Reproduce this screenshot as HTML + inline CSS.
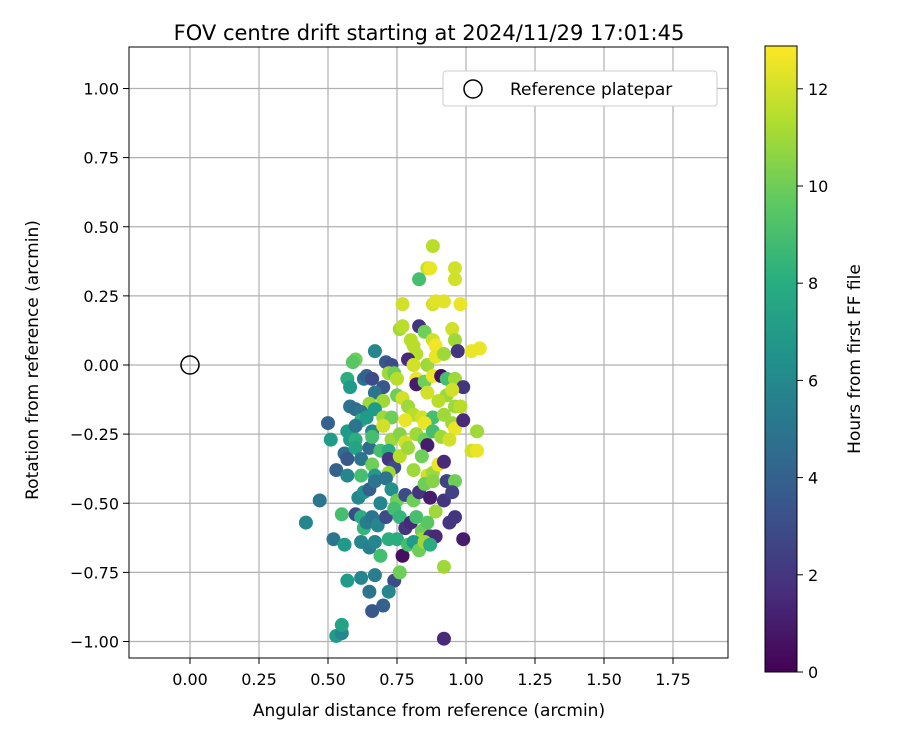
<!DOCTYPE html>
<html><head><meta charset="utf-8"><style>
body{margin:0;background:#fff;}
svg text{font-family:"DejaVu Sans","Liberation Sans",sans-serif;fill:#000;}
</style></head><body>
<svg id="chart" width="900" height="750" xmlns="http://www.w3.org/2000/svg">
<defs><linearGradient id="vir" x1="0" y1="1" x2="0" y2="0">
<stop offset="0" stop-color="#440154"/><stop offset="0.125" stop-color="#472d7b"/><stop offset="0.25" stop-color="#3b528b"/><stop offset="0.375" stop-color="#2c728e"/><stop offset="0.5" stop-color="#21918c"/><stop offset="0.625" stop-color="#28ae80"/><stop offset="0.75" stop-color="#5ec962"/><stop offset="0.875" stop-color="#addc30"/><stop offset="1" stop-color="#fde725"/></linearGradient></defs>
<g id="grid"></g>
<g id="pts"></g>
<rect x="129" y="47" width="599" height="611" fill="none" stroke="#000" stroke-width="1"/>
<g id="axes"></g>
<text x="429" y="47" dy="-7" font-size="21" text-anchor="middle">FOV centre drift starting at 2024/11/29 17:01:45</text>
<text x="429" y="716" font-size="17" text-anchor="middle">Angular distance from reference (arcmin)</text>
<text transform="translate(38,360) rotate(-90)" font-size="17" text-anchor="middle">Rotation from reference (arcmin)</text>
<g>
<rect x="443" y="71" width="274" height="35" rx="3" fill="#fff" stroke="#ccc"/>
<circle cx="473" cy="89" r="9" fill="none" stroke="#000" stroke-width="1.5"/>
<text x="510" y="95" font-size="17">Reference platepar</text>
</g>
<circle cx="190" cy="365" r="9" fill="none" stroke="#000" stroke-width="1.5"/>
<rect x="765" y="46" width="32" height="626" fill="url(#vir)" stroke="#000" stroke-width="1"/>
<g id="cbar"></g>
<text transform="translate(860,359) rotate(-90)" font-size="17" text-anchor="middle">Hours from first FF file</text>
</svg>
<script>
const xTicks=[0,0.25,0.5,0.75,1.0,1.25,1.5,1.75];
const yTicks=[1.0,0.75,0.5,0.25,0,-0.25,-0.5,-0.75,-1.0];
const cTicks=[0,2,4,6,8,10,12];
const xs=[0.88,0.86,0.87,0.96,0.96,0.83,0.77,0.88,0.89,0.92,0.98,0.83,0.76,0.77,0.85,0.95,0.80,0.88,0.89,0.96,0.97,1.02,1.05,0.81,0.82,0.79,0.81,0.86,0.89,0.92,0.60,0.59,0.67,0.71,0.73,0.72,0.74,0.75,0.57,0.58,0.63,0.64,0.66,0.70,0.67,0.82,0.82,0.85,0.88,0.91,0.93,0.96,0.99,0.86,0.93,0.95,0.90,0.96,0.98,0.70,0.75,0.77,0.65,0.58,0.60,0.62,0.67,0.70,0.73,0.79,0.81,0.84,0.88,0.92,0.95,0.96,0.85,0.78,0.62,0.64,0.59,0.57,0.60,0.66,0.70,0.73,0.76,0.78,0.82,0.85,0.88,0.91,0.94,0.86,0.99,1.04,1.02,1.04,0.50,0.51,0.53,0.56,0.57,0.58,0.60,0.60,0.62,0.65,0.66,0.66,0.69,0.72,0.72,0.74,0.76,0.79,0.81,0.84,0.86,0.88,0.90,0.92,0.93,0.96,0.72,0.67,0.62,0.57,0.55,0.61,0.63,0.65,0.67,0.71,0.73,0.75,0.78,0.81,0.83,0.85,0.88,0.87,0.89,0.92,0.95,0.47,0.42,0.52,0.60,0.62,0.63,0.64,0.66,0.68,0.69,0.71,0.74,0.76,0.78,0.80,0.82,0.84,0.86,0.84,0.87,0.89,0.94,0.96,0.99,0.56,0.62,0.65,0.67,0.69,0.72,0.75,0.77,0.79,0.81,0.83,0.85,0.87,0.92,0.57,0.62,0.67,0.74,0.76,0.65,0.72,0.70,0.66,0.53,0.55,0.55,0.92];
const ys=[0.43,0.35,0.35,0.35,0.31,0.31,0.22,0.22,0.23,0.23,0.22,0.14,0.13,0.14,0.12,0.13,0.09,0.09,0.07,0.09,0.05,0.05,0.06,0.07,0.04,0.02,0.0,0.0,0.03,0.04,0.02,0.01,0.05,0.01,0.0,-0.03,-0.03,-0.05,-0.05,-0.08,-0.05,-0.04,-0.05,-0.08,-0.10,-0.05,-0.07,-0.06,-0.04,-0.04,-0.05,-0.05,-0.08,-0.10,-0.11,-0.09,-0.13,-0.15,-0.15,-0.13,-0.11,-0.12,-0.14,-0.15,-0.16,-0.17,-0.16,-0.19,-0.19,-0.15,-0.18,-0.19,-0.19,-0.18,-0.21,-0.23,-0.21,-0.2,-0.2,-0.19,-0.26,-0.24,-0.22,-0.24,-0.22,-0.27,-0.25,-0.28,-0.25,-0.27,-0.24,-0.26,-0.27,-0.29,-0.2,-0.24,-0.31,-0.31,-0.21,-0.27,-0.38,-0.32,-0.34,-0.27,-0.27,-0.30,-0.34,-0.30,-0.36,-0.26,-0.31,-0.31,-0.34,-0.37,-0.33,-0.30,-0.38,-0.33,-0.40,-0.39,-0.36,-0.35,-0.42,-0.42,-0.39,-0.40,-0.40,-0.40,-0.54,-0.48,-0.46,-0.45,-0.42,-0.41,-0.45,-0.49,-0.47,-0.49,-0.46,-0.43,-0.42,-0.48,-0.53,-0.49,-0.46,-0.49,-0.57,-0.63,-0.54,-0.55,-0.59,-0.57,-0.55,-0.58,-0.50,-0.55,-0.52,-0.55,-0.59,-0.57,-0.55,-0.60,-0.57,-0.63,-0.62,-0.62,-0.57,-0.55,-0.63,-0.65,-0.64,-0.66,-0.64,-0.69,-0.63,-0.63,-0.69,-0.65,-0.64,-0.67,-0.64,-0.65,-0.73,-0.78,-0.77,-0.76,-0.78,-0.75,-0.82,-0.82,-0.87,-0.89,-0.98,-0.97,-0.94,-0.99];
const hrs=[11.5,11.8,12.5,12,12,9,12,12,12.3,12.3,12.5,2,11,11.5,10,12,11.5,12,12.7,11,2,12.5,12.5,11.5,11.5,1.5,12,11,12.5,11,10,9.5,6,3.5,3,11,10,11.5,8,7,5,4,3,3.5,5,12.5,1,10,12.5,0.5,9,11,2,12,11,12,11.5,11,11.5,11,10,12,11,5,4.5,5,7,11,10,11,11.5,12,9,11,11,12.5,12.5,12.5,8,7,6,7,5,6,12,11,10.5,12,11,10,9,11,12,1,1.5,11,12,12.5,4,7,4,4.5,3.5,7,8,7.5,5,4.5,10,9,9,8,2,3,11.5,11,11,10,12,11,12.5,1.5,2.5,10,11,7,9,6,9,6,6.5,4,5,5,6.5,10,3,10,2,10,10.5,1,11,2,2.5,5,6,5,3,8,8.5,5.5,5,6,6,3,9,8.5,2,1.5,9,10,9.5,11,2,1.5,2,2,1,7,6,5.5,6,9,8,8,0.5,9,7,10,11,8,11,7,6,5.5,3,10,5,6,4,3.5,7,6,7.5,1.5];
const X0=190,XS=276,Y0=365,YS=276.5,CB=672,CS=48.6;
const sx=v=>X0+v*XS, sy=v=>Y0-v*YS;
const stops=["#440154","#482878","#3e4989","#31688e","#26828e","#1f9e89","#35b779","#6ece58","#b5de2b","#fde725"];
function hex(h){return [1,3,5].map(i=>parseInt(h.substr(i,2),16));}
function vir(t){t=Math.max(0,Math.min(1,t));const f=t*(stops.length-1),i=Math.min(stops.length-2,Math.floor(f)),u=f-i;const a=hex(stops[i]),b=hex(stops[i+1]);return `rgb(${a.map((c,k)=>Math.round(c+(b[k]-c)*u)).join(',')})`;}
const NS="http://www.w3.org/2000/svg";
function mk(tag,attrs,parent){const e=document.createElementNS(NS,tag);for(const k in attrs)e.setAttribute(k,attrs[k]);parent.appendChild(e);return e;}
const grid=document.getElementById('grid'),axes=document.getElementById('axes'),pts=document.getElementById('pts'),cbar=document.getElementById('cbar');
xTicks.forEach(v=>{const x=sx(v);
 const g=mk('line',{x1:x,x2:x,y1:47,y2:658,stroke:'#b0b0b0','stroke-width':1.2},grid);
 const t=mk('line',{x1:x,x2:x,y1:658,y2:664,stroke:'#000'},axes);
 const l=mk('text',{x:x,y:685,'font-size':16,'text-anchor':'middle'},axes);l.textContent=v.toFixed(2);});
yTicks.forEach(v=>{const y=sy(v);
 const g=mk('line',{x1:129,x2:728,y1:y,y2:y,stroke:'#b0b0b0','stroke-width':1.2},grid);
 const t=mk('line',{x1:123,x2:129,y1:y,y2:y,stroke:'#000'},axes);
 const l=mk('text',{x:119,y:y+6,'font-size':16,'text-anchor':'end'},axes);l.textContent=(v<0?'\u2212':'')+Math.abs(v).toFixed(2);});
xs.forEach((v,i)=>{const c=mk('circle',{cx:sx(v),cy:sy(ys[i]),r:7,fill:vir(hrs[i]/12.88)},pts);});
cTicks.forEach(v=>{const y=CB-v*CS;
 const t=mk('line',{x1:797,x2:803,y1:y,y2:y,stroke:'#000'},cbar);
 const l=mk('text',{x:808,y:y+6,'font-size':16},cbar);l.textContent=v;});
</script>
</body></html>
